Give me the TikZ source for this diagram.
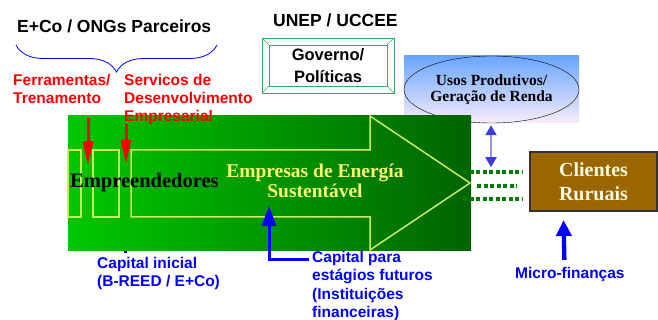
\documentclass[tikz,border=0pt]{standalone}
\usepackage{fontspec}
\setmainfont{Liberation Serif}
\setsansfont{Liberation Sans}
\usepackage{tikz}
\usetikzlibrary{calc,arrows.meta,shapes.geometric,decorations.pathreplacing}

\definecolor{verdeClaro}{RGB}{0,200,0}
\definecolor{verdeEscuro}{RGB}{0,100,0}
\definecolor{amarelo}{RGB}{250,250,110}
\definecolor{contorno}{RGB}{205,235,95}
\definecolor{moldura}{RGB}{60,165,105}
\definecolor{azulCeu}{RGB}{105,165,255}
\definecolor{rosaClaro}{RGB}{248,236,250}
\definecolor{marrom}{RGB}{153,102,0}
\definecolor{creme}{RGB}{255,250,225}
\definecolor{lilas}{RGB}{150,150,230}
\definecolor{roxo}{RGB}{60,60,215}
\definecolor{pontos}{RGB}{0,125,0}

\begin{document}
\begin{tikzpicture}[x=1pt,y=-1pt,inner sep=0pt,
    titulo/.style={font={\sffamily\bfseries\fontsize{17.5}{20}\selectfont}},
    vermelho/.style={font={\sffamily\bfseries\fontsize{15.5}{18}\selectfont},text=red,align=left,anchor=north west},
    azul/.style={font={\sffamily\bfseries\fontsize{15.5}{18.5}\selectfont},text=blue,align=left},
    setaVermelha/.style={red,line width=3pt,>={Triangle[length=24pt,width=10pt]},->},
    setaAzul/.style={blue,line width=3pt,>={Triangle[length=20pt,width=14pt]},->},
    setaGrossa/.style={blue,line width=4.3pt,>={Triangle[length=16pt,width=15pt]},->},
    duplaSeta/.style={lilas,line width=2pt,>={Triangle[length=10pt,width=11pt,color=roxo]},<->},
    pontilhado/.style={pontos,line width=3.5pt,dash pattern=on 4pt off 2.5pt}]

    \useasboundingbox (0,0) rectangle (658,320);

    % Parceiros no topo
    \node (PARC) at (17,33) [titulo,anchor=base west] {E+Co / ONGs Parceiros};
    \draw [blue,line width=0.8pt,decorate,decoration={brace,amplitude=27pt}] (217,45) -- (16,45);
    \node (FERR) at (13,73.7) [vermelho] {Ferramentas/\\Trenamento};

    % UNEP e governo
    \node (UNEP) at (273,27) [titulo,anchor=base west] {UNEP / UCCEE};
    \node (GOV) at (328,65.5) [draw=moldura,fill=white,minimum width=132pt,minimum height=55pt,
      font={\sffamily\bfseries\fontsize{16.5}{21.5}\selectfont},align=center] {Governo/\\Políticas};
    \draw [moldura] ($ (GOV.north west) + (7,7) $) rectangle ($ (GOV.south east) + (-7,-7) $);
    \draw [moldura] (GOV.north west) -- +(7,7) (GOV.north east) -- +(-7,7)
      (GOV.south west) -- +(7,-7) (GOV.south east) -- +(-7,-7);

    % Usos produtivos
    \shade [top color=azulCeu,bottom color=rosaClaro] (404,56) rectangle (579,123);
    \node (USOS) at (491.5,89.5) [draw,ellipse,minimum width=175pt,minimum height=67pt,
      font={\rmfamily\bfseries\fontsize{15.5}{16.5}\selectfont},align=center] {Usos Produtivos/\\Geração de Renda};

    % Capital inicial (seta escondida atras da faixa)
    \node (CAP0) at (97,257) [azul,anchor=north west] {Capital inicial\\(B-REED / E+Co)};
    \draw [blue,line width=3pt] ($ (CAP0.north west) + (28,-4) $) -- +(0,-15);

    % Faixa verde com a seta
    \shade [left color=verdeClaro,right color=verdeEscuro] (68,116) rectangle (471,251);
    \draw [contorno,line width=1.5pt] (68,150) rectangle (81,217) (93,150) rectangle (119,217);
    \draw [contorno,line width=1.5pt] (131,150) -- (370,150) -- (370,116) -- (470,183)
      -- (370,250) -- (370,217) -- (131,217) -- cycle;

    \node (EMPR) at (70,187.5) [anchor=base west,font={\rmfamily\bfseries\fontsize{20.5}{22}\selectfont}] {Empreendedores};
    \node (EMPS) at (315,164) [anchor=north,text=amarelo,align=center,
      font={\rmfamily\bfseries\fontsize{19.5}{19.5}\selectfont}] {Empresas de Energía\\Sustentável};

    \node (SERV) at (124,73.7) [vermelho] {Servicos de\\Desenvolvimento\\Empresarial};

    % Setas vermelhas
    \coordinate (f0) at (88,118.5);
    \coordinate (f1) at (88,165.5);
    \coordinate (s0) at (126,124.5);
    \coordinate (s1) at (126,164);
    \draw [setaVermelha] (f0) -- (f1);
    \draw [setaVermelha] (s0) -- (s1);

    % Clientes
    \node (CLI) at (593.5,181.5) [draw=black!80,line width=1.5pt,fill=marrom,text=creme,
      minimum width=127pt,minimum height=59pt,align=center,
      font={\rmfamily\bfseries\fontsize{20}{23.5}\selectfont}] {Clientes\\Ruruais};
    \foreach \y/\a/\b in {172/463/7, 186/477/13, 199/463/7}
      \draw [pontilhado] (\a,\y) -- ($ (CLI.west |- 0,\y) + (-\b,0) $);

    \draw [duplaSeta] ($ (USOS.south) + (-0.5,2) $) -- ($ (USOS.south) + (-0.5,44) $);

    % Capital para estagios futuros
    \node (CAP1) at (312,251) [azul,anchor=north west] {Capital para\\estágios futuros\\(Instituições\\financeiras)};
    \coordinate (c1) at (269,206);
    \draw [setaAzul] ($ (CAP1.north west) + (-3,8.3) $) -| (c1);

    % Micro-financas
    \node (MICRO) at (515,278.3) [azul,anchor=base west] {Micro-finanças};
    \draw [setaGrossa] ($ (MICRO.north) + (-5.5,-7) $) -- ($ (CLI.south) + (-30,8.3) $);
\end{tikzpicture}
\end{document}
